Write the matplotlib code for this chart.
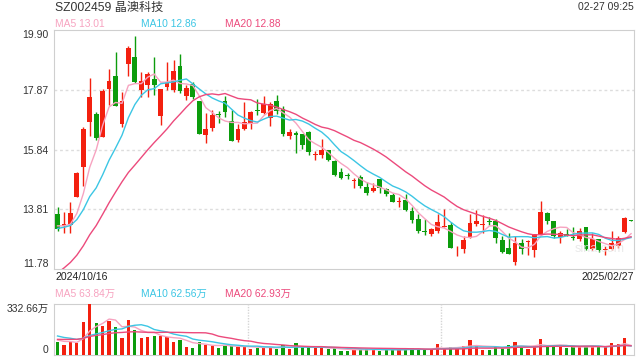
import numpy as np
import pandas as pd
import matplotlib
matplotlib.use("Agg")
import matplotlib.pyplot as plt

plt.rcParams['font.family'] = ['Liberation Sans', 'Noto Sans CJK SC', 'DejaVu Sans']

########## data ######################################
opens = [13.64, 13.25, 13.27, 14.23, 15.24, 16.77, 17.06, 16.26, 17.90, 18.34,
         16.69, 18.73, 18.98, 17.87, 18.02, 18.24, 16.97, 17.96, 17.87, 18.66,
         17.67, 18.07, 17.50, 16.33, 16.57, 17.06, 17.50, 16.82, 16.16, 16.55,
         16.69, 17.16, 17.08, 16.91, 17.48, 17.20, 16.29, 16.41, 16.35, 16.43,
         15.65, 15.67, 15.81, 15.45, 15.07, 14.96, 14.78, 14.92, 14.58, 14.43,
         14.83, 14.49, 14.28, 14.06, 14.13, 13.75, 13.47, 13.08, 12.96, 13.06,
         13.21, 13.27, 12.41, 12.46, 12.85, 13.30, 13.28, 13.42, 13.42, 12.76,
         12.49, 12.01, 12.65, 12.70, 12.42, 12.96, 13.68, 13.42, 12.88, 12.96,
         12.85, 12.80, 13.19, 12.46, 12.80, 12.43, 12.46, 12.57, 13.04, 13.44]
highs = [13.87, 13.73, 14.07, 15.07, 16.60, 18.26, 17.10, 17.89, 18.57, 19.14,
         17.80, 19.34, 19.70, 18.49, 18.49, 18.98, 17.90, 18.81, 18.89, 19.09,
         18.04, 18.15, 17.50, 17.08, 17.19, 17.14, 17.67, 17.19, 16.69, 17.47,
         17.16, 17.55, 17.67, 17.44, 17.70, 17.31, 16.52, 16.46, 16.35, 16.46,
         15.78, 16.18, 15.84, 15.50, 15.20, 15.05, 14.86, 14.97, 14.74, 14.71,
         14.83, 14.54, 14.35, 14.23, 14.32, 13.87, 13.64, 13.47, 13.16, 13.64,
         13.81, 13.38, 12.57, 12.89, 13.64, 13.79, 13.61, 13.55, 13.47, 12.91,
         12.99, 12.89, 12.80, 12.76, 12.96, 14.09, 13.73, 13.42, 13.08, 13.13,
         13.19, 13.17, 13.19, 13.02, 12.80, 12.57, 13.08, 12.91, 13.53, 13.44]
lows = [13.06, 13.00, 13.02, 14.23, 14.60, 16.29, 16.15, 16.26, 17.36, 17.31,
        16.60, 18.34, 18.10, 17.64, 17.61, 17.70, 16.66, 17.87, 17.79, 17.76,
        17.51, 17.57, 16.38, 16.07, 16.46, 16.74, 16.93, 16.12, 16.09, 16.49,
        16.55, 17.02, 17.05, 16.63, 17.05, 16.31, 16.21, 15.73, 15.86, 15.67,
        15.50, 15.56, 15.45, 14.94, 14.85, 14.83, 14.54, 14.54, 14.30, 14.40,
        14.37, 14.26, 14.04, 13.90, 13.76, 13.33, 13.00, 12.94, 12.91, 12.99,
        13.19, 12.49, 12.23, 12.32, 12.82, 13.25, 13.02, 13.28, 12.68, 12.32,
        12.29, 11.93, 12.29, 12.25, 12.20, 12.96, 13.30, 12.85, 12.68, 12.89,
        12.77, 12.74, 12.44, 12.42, 12.35, 12.25, 12.44, 12.49, 12.99, 13.42]
closes = [13.13, 13.30, 13.68, 15.03, 16.55, 17.63, 16.24, 17.84, 18.17, 17.31,
          17.48, 19.30, 18.13, 18.17, 18.41, 18.02, 17.90, 18.15, 18.51, 17.84,
          17.93, 17.64, 16.38, 16.52, 17.02, 17.02, 17.10, 16.14, 16.52, 16.78,
          17.10, 17.14, 17.38, 17.40, 17.16, 16.35, 16.43, 16.34, 15.98, 15.75,
          15.67, 15.84, 15.47, 14.97, 14.88, 14.94, 14.80, 14.60, 14.35, 14.52,
          14.54, 14.34, 14.06, 14.09, 13.79, 13.45, 13.06, 13.04, 13.13, 13.39,
          13.24, 12.49, 12.43, 12.76, 13.34, 13.42, 13.30, 13.38, 12.83, 12.37,
          12.29, 12.65, 12.46, 12.73, 12.96, 13.72, 13.42, 12.91, 13.00, 12.91,
          12.83, 13.06, 12.46, 12.80, 12.43, 12.45, 12.68, 12.85, 13.50, 13.42]
# volume in 万 shares
volumes = [83, 65, 87, 80, 217, 332.66, 211, 189, 222, 185,
           113, 228, 163, 113, 115, 124, 124, 115, 87, 98,
           54, 48, 87, 65, 61, 48, 61, 59, 54, 54,
           41, 48, 48, 54, 41, 65, 37, 76, 50, 50,
           43, 48, 39, 43, 28, 28, 37, 37, 37, 37,
           28, 37, 37, 37, 37, 43, 37, 37, 37, 72,
           39, 50, 43, 59, 98, 59, 33, 33, 50, 48,
           65, 85, 48, 39, 61, 104, 54, 54, 54, 48,
           54, 54, 54, 54, 59, 50, 76, 72, 113, 2]
# sessions before the window, only used for the moving averages
prior_closes = [10.0, 9.9, 10.1, 10.2, 10.1, 10.0, 10.2, 10.3, 10.1, 10.5,
                12.9, 13.1, 13.0, 13.2, 13.15, 13.3, 13.4, 13.2, 13.2]
prior_volumes = [70, 85, 75, 90, 80, 78, 85, 72, 88, 77,
                 160, 140, 155, 145, 150, 110, 95, 105, 97]

title = 'SZ002459 晶澳科技'
stamp = '02-27 09:25'
first_date = '2024/10/16'
last_date = '2025/02/27'
price_ticks = [11.78, 13.81, 15.84, 17.87, 19.90]
vol_top = 332.66
ma_labels = ['MA5 13.01', 'MA10 12.86', 'MA20 12.88']
vol_ma_labels = ['MA5 63.84万', 'MA10 62.56万', 'MA20 62.93万']

RED = '#f3200f'
GREEN = '#0c9c0c'
MA_COLORS = ['#f7a3c0', '#3cc6e4', '#ec4a7c']
BORDER = '#cfcfcf'

n = len(closes)
idx = np.arange(n)
o = np.array(opens); h = np.array(highs); l = np.array(lows); c = np.array(closes)
up = c >= o
colors = np.where(up, RED, GREEN)

all_c = pd.Series(prior_closes + closes)
all_v = pd.Series(prior_volumes + volumes)
k = len(prior_closes)

fig = plt.figure(figsize=(6.4, 3.6), dpi=100)
ax = fig.add_axes([54.3/640, 1-269/360, 580/640, 239/360])
axv = fig.add_axes([54.3/640, 1-355/360, 580/640, 51/360])

############## price panel ################
ax.vlines(idx, l, h, colors=colors, linewidth=1, zorder=3)
body = np.maximum(np.abs(c-o), 0.03)
ax.bar(idx, body, bottom=np.minimum(o, c), width=0.75, color=colors, zorder=4, linewidth=0)
for w, col in zip([5, 10, 20], MA_COLORS):
    ma = all_c.rolling(w).mean().values[k:]
    ax.plot(idx, ma, color=col, linewidth=1, zorder=5)

ax.set_xlim(-0.5, n-0.5)
ax.set_ylim(price_ticks[0], price_ticks[-1])
for t in price_ticks[1:-1]:
    ax.axhline(t, color='#dddddd', linewidth=1, linestyle=(0, (2, 2)), zorder=1)
ax.set_xticks([])
ax.set_yticks(price_ticks)
ax.set_yticklabels(['%.2f' % t for t in price_ticks], fontsize=7.5, color='#333333')
ax.tick_params(axis='y', length=0, pad=4)
labs = ax.get_yticklabels()
labs[0].set_va('bottom')
labs[-1].set_va('top')
for s in ax.spines.values():
    s.set_color(BORDER)
ax.text(0.94, 0.085, 'sina.com', transform=ax.transAxes, ha='center', va='center',
        fontsize=9, color='#e6e6e6', alpha=0.85, zorder=6)

############## volume panel ################
axv.bar(idx, volumes, width=0.5, color=colors, linewidth=0, zorder=3)
for w, col in zip([5, 10, 20], MA_COLORS):
    ma = all_v.rolling(w).mean().values[k:]
    axv.plot(idx, ma, color=col, linewidth=1, zorder=4)
axv.set_xlim(-0.5, n-0.5)
axv.set_ylim(0, vol_top)
axv.set_xticks([])
axv.set_yticks([0, vol_top])
axv.set_yticklabels(['0', '%.2f万' % vol_top], fontsize=7.5, color='#333333')
axv.tick_params(axis='y', length=0, pad=4)
vl = axv.get_yticklabels()
vl[0].set_va('bottom')
vl[1].set_va('top')
for s in axv.spines.values():
    s.set_color(BORDER)
axv.spines['top'].set_linestyle((0, (1, 1)))
for f in [1/3, 2/3]:
    axv.axvline(-0.5 + f*n, color='#d5d5d5', linewidth=1, linestyle=(0, (1, 1)), zorder=1)

############### texts #####################
fig.text(55/640, 1-8/360, title, fontsize=8.7, color='#333333', va='center')
fig.text(634/640, 1-7/360, stamp, fontsize=7.5, color='#333333', va='center', ha='right')
for x, txt, col in zip([55, 140.7, 225], ma_labels, MA_COLORS):
    fig.text(x/640, 1-24/360, txt, fontsize=7.4, color=col, va='center')
for x, txt, col in zip([55, 140.7, 225], vol_ma_labels, MA_COLORS):
    fig.text(x/640, 1-294/360, txt, fontsize=7.4, color=col, va='center')
fig.text(55/640, 1-277.5/360, first_date, fontsize=7.6, color='#222222', va='center')
fig.text(634/640, 1-277.5/360, last_date, fontsize=7.6, color='#222222', va='center', ha='right')

fig.savefig('out.png', dpi=100)
